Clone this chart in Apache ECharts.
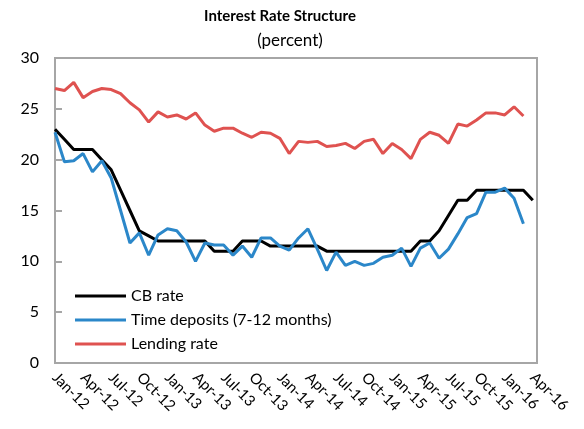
<!DOCTYPE html>
<html>
<head>
<meta charset="utf-8">
<title>Interest Rate Structure</title>
<script src="https://cdn.jsdelivr.net/npm/echarts@6/dist/echarts.min.js"></script>
<style>
  html, body { margin: 0; padding: 0; background: #fff; }
  #chartBox { width: 584px; height: 429px; }
</style>
</head>
<body>
<div id="chartBox"></div>
<script>
// monthly categories, Jan-12 .. Apr-16
var categories = [
  'Jan-12', 'Feb-12', 'Mar-12', 'Apr-12', 'May-12', 'Jun-12', 'Jul-12', 'Aug-12', 'Sep-12', 'Oct-12', 'Nov-12', 'Dec-12',
  'Jan-13', 'Feb-13', 'Mar-13', 'Apr-13', 'May-13', 'Jun-13', 'Jul-13', 'Aug-13', 'Sep-13', 'Oct-13', 'Nov-13', 'Dec-13',
  'Jan-14', 'Feb-14', 'Mar-14', 'Apr-14', 'May-14', 'Jun-14', 'Jul-14', 'Aug-14', 'Sep-14', 'Oct-14', 'Nov-14', 'Dec-14',
  'Jan-15', 'Feb-15', 'Mar-15', 'Apr-15', 'May-15', 'Jun-15', 'Jul-15', 'Aug-15', 'Sep-15', 'Oct-15', 'Nov-15', 'Dec-15',
  'Jan-16', 'Feb-16', 'Mar-16', 'Apr-16'
]

// CB rate
var cbRate = [
  23, 22, 21, 21, 21, 20, 19, 17, 15, 13, 12.5, 12,
  12, 12, 12, 12, 12, 11, 11, 11, 12, 12, 12, 11.5,
  11.5, 11.5, 11.5, 11.5, 11.5, 11, 11, 11, 11, 11, 11, 11,
  11, 11, 11, 12, 12, 13, 14.5, 16, 16, 17, 17, 17,
  17, 17, 17, 16
]

// Time deposits (7-12 months)
var timeDeposits = [
  22.7, 19.8, 19.9, 20.6, 18.8, 19.9, 18.2, 15.0, 11.8, 12.8, 10.6, 12.6,
  13.2, 13.0, 11.9, 10.0, 11.8, 11.6, 11.6, 10.6, 11.5, 10.4, 12.3, 12.3,
  11.5, 11.1, 12.3, 13.2, 11.2, 9.1, 10.9, 9.6, 10.0, 9.6, 9.8, 10.4,
  10.6, 11.3, 9.5, 11.3, 11.8, 10.3, 11.2, 12.7, 14.3, 14.7, 16.8, 16.8,
  17.2, 16.2, 13.7
]

// Lending rate
var lendingRate = [
  27.0, 26.8, 27.6, 26.1, 26.7, 27.0, 26.9, 26.5, 25.6, 24.9, 23.7, 24.7,
  24.2, 24.4, 24.0, 24.6, 23.4, 22.8, 23.1, 23.1, 22.6, 22.2, 22.7, 22.6,
  22.1, 20.6, 21.8, 21.7, 21.8, 21.3, 21.4, 21.6, 21.1, 21.8, 22.0, 20.6,
  21.6, 21.0, 20.1, 22.0, 22.7, 22.4, 21.6, 23.5, 23.3, 23.9, 24.6, 24.6,
  24.4, 25.2, 24.3
]

var yTicks = [0, 5, 10, 15, 20, 25, 30]

function toPoints (arr) {
  return arr.map(function (v, i) { return [i, v] })
}

var font = 'Lato, "Open Sans", sans-serif'
var frameColor = '#a6a6a6'

var myChart = echarts.init(document.getElementById('chartBox'))
myChart.setOption({
  animation: false,
  textStyle: { fontFamily: font },
  title: [{
    text: 'Interest Rate Structure',
    left: 275,
    top: 4,
    textAlign: 'center',
    textStyle: { fontSize: 15, fontWeight: 'bold', color: '#000', fontFamily: font }
  }, {
    text: '(percent)',
    left: 285,
    top: 27,
    textAlign: 'center',
    textStyle: { fontSize: 17, fontWeight: 'normal', color: '#000', fontFamily: font }
  }],
  legend: {
    orient: 'vertical',
    left: 70,
    top: 283,
    icon: 'rect',
    itemWidth: 51,
    itemHeight: 3,
    itemGap: 8,
    data: ['CB rate', 'Time deposits (7-12 months)', 'Lending rate'],
    textStyle: { fontSize: 16, color: '#000', fontFamily: font }
  },
  grid: {
    left: 55,
    right: 47,
    top: 58,
    bottom: 66,
    show: true,
    borderColor: frameColor,
    borderWidth: 2
  },
  xAxis: {
    type: 'value',
    min: 0,
    max: 51.45,
    interval: 3,
    axisLine: { show: true, lineStyle: { color: frameColor, width: 2 } },
    axisTick: { show: false },
    splitLine: { show: false },
    axisLabel: {
      rotate: -45,
      margin: 12,
      fontSize: 15,
      color: '#000',
      showMaxLabel: false,
      formatter: function (val) {
        return Number.isInteger(val) && categories[val] ? categories[val] : ''
      }
    }
  },
  yAxis: {
    type: 'value',
    min: yTicks[0],
    max: yTicks[yTicks.length - 1],
    interval: 5,
    axisLine: { show: true, lineStyle: { color: frameColor, width: 2 } },
    axisTick: { show: true, inside: true, length: 7, lineStyle: { color: frameColor, width: 2 } },
    splitLine: { show: false },
    axisLabel: { fontSize: 16, color: '#000', margin: 16 }
  },
  series: [{
    name: 'CB rate',
    type: 'line',
    symbol: 'none',
    data: toPoints(cbRate),
    lineStyle: { color: '#000000', width: 3 },
    itemStyle: { color: '#000000' }
  }, {
    name: 'Time deposits (7-12 months)',
    type: 'line',
    symbol: 'none',
    data: toPoints(timeDeposits),
    lineStyle: { color: '#2b87c9', width: 3 },
    itemStyle: { color: '#2b87c9' }
  }, {
    name: 'Lending rate',
    type: 'line',
    symbol: 'none',
    data: toPoints(lendingRate),
    lineStyle: { color: '#df5250', width: 3 },
    itemStyle: { color: '#df5250' }
  }]
})
</script>
</body>
</html>
